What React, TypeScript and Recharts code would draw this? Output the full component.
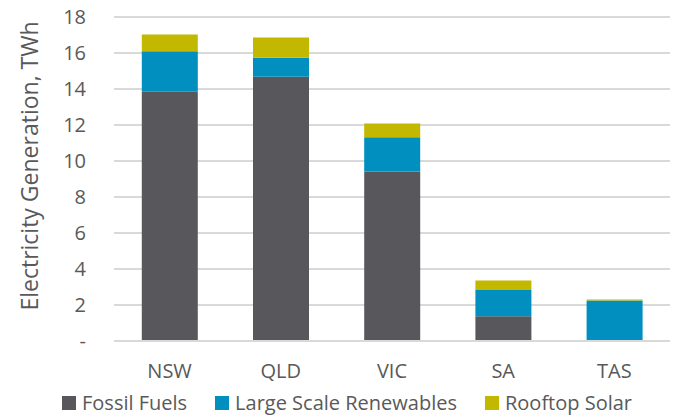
import React from 'react'
import { BarChart, Bar, XAxis, YAxis, CartesianGrid, Legend } from 'recharts'

const regions = ['NSW', 'QLD', 'VIC', 'SA', 'TAS']
const fossilFuels = [13.85, 14.68, 9.42, 1.38, 0]
const largeScaleRenewables = [2.25, 1.05, 1.9, 1.46, 2.25]
const rooftopSolar = [0.93, 1.13, 0.76, 0.52, 0.05]
const yTicks = [0, 2, 4, 6, 8, 10, 12, 14, 16, 18]

const series = [
  { key: 'fossil', name: 'Fossil Fuels', color: '#58575c' },
  { key: 'renewables', name: 'Large Scale Renewables', color: '#008fbe' },
  { key: 'rooftop', name: 'Rooftop Solar', color: '#c3b800' },
]

const data = regions.map((region, i) => ({
  region,
  fossil: fossilFuels[i],
  renewables: largeScaleRenewables[i],
  rooftop: rooftopSolar[i],
}))

const FONT = '"Open Sans", sans-serif'
const TEXT = '#595959'

function LegendRow() {
  return (
    <div style={{ display: 'flex', alignItems: 'center', paddingLeft: 62, fontFamily: FONT, fontSize: 20, color: TEXT, lineHeight: '28px' }}>
      {series.map((s) => (
        <div key={s.key} style={{ display: 'flex', alignItems: 'center', marginRight: 28 }}>
          <span style={{ width: 14, height: 14, background: s.color, marginRight: 6, display: 'inline-block' }} />
          <span>{s.name}</span>
        </div>
      ))}
    </div>
  )
}

// rotated axis title, sitting a little above the plot's vertical centre
function AxisTitle({ viewBox }: any) {
  const x = 29
  const y = viewBox.y + viewBox.height / 2 - 13
  return (
    <text
      x={x}
      y={y}
      transform={`rotate(-90, ${x}, ${y})`}
      textAnchor="middle"
      dominantBaseline="central"
      fontSize={23}
      fontFamily={FONT}
      fill={TEXT}
    >
      Electricity Generation, TWh
    </text>
  )
}

export default function App() {
  return (
    <div style={{ position: 'absolute', left: 0, top: 0, background: '#fff' }}>
      <BarChart
        width={673}
        height={417}
        data={data}
        margin={{ top: 17, right: 3, left: 0, bottom: 0 }}
        barCategoryGap="25%"
      >
        <CartesianGrid stroke="#d9d9d9" strokeWidth={2} vertical={false} />
        <XAxis
          dataKey="region"
          axisLine={{ stroke: '#d9d9d9', strokeWidth: 2 }}
          tickLine={false}
          tickMargin={17}
          height={48}
          tick={{ fontSize: 20, fill: TEXT, fontFamily: FONT }}
        />
        <YAxis
          domain={[0, 18]}
          ticks={yTicks}
          interval={0}
          width={114}
          axisLine={false}
          tickLine={false}
          tickMargin={22}
          tickFormatter={(v) => (v === 0 ? '-' : String(v))}
          tick={{ fontSize: 20, fill: TEXT, fontFamily: FONT }}
          label={<AxisTitle />}
        />
        <Legend verticalAlign="bottom" height={28} content={() => <LegendRow />} />
        {series.map((s) => (
          <Bar key={s.key} dataKey={s.key} name={s.name} stackId="gen" fill={s.color} isAnimationActive={false} />
        ))}
      </BarChart>
    </div>
  )
}
